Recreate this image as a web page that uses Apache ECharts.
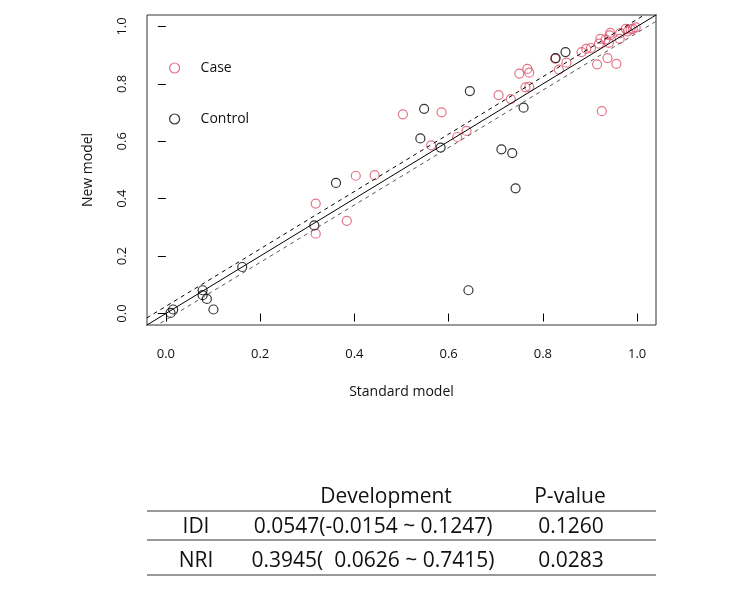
<!DOCTYPE html>
<html>
<head>
<meta charset="utf-8">
<script src="https://cdn.jsdelivr.net/npm/echarts@6/dist/echarts.min.js"></script>
<style>html,body{margin:0;padding:0;background:#fff}#c{width:744px;height:590px}</style>
</head>
<body>
<div id="c"></div>
<script>
// ---- data ----
const caseData = [
  [0.318,0.383],[0.318,0.278],[0.384,0.323],[0.403,0.480],[0.443,0.482],
  [0.503,0.694],[0.585,0.701],[0.563,0.586],[0.618,0.615],[0.638,0.636],
  [0.706,0.761],[0.732,0.747],[0.750,0.836],[0.767,0.852],[0.771,0.839],
  [0.763,0.788],[0.771,0.790],[0.834,0.850],[0.850,0.874],[0.882,0.911],
  [0.892,0.922],[0.902,0.925],[0.915,0.868],[0.925,0.705],[0.919,0.940],
  [0.922,0.957],[0.933,0.955],[0.937,0.890],[0.940,0.943],[0.942,0.969],
  [0.943,0.978],[0.956,0.870],[0.963,0.957],[0.964,0.977],[0.976,0.992],
  [0.980,0.983],[0.986,0.990],[0.991,0.992],[0.997,0.997],[0.826,0.888]
];
const controlData = [
  [0.010,0.002],[0.0155,0.014],[0.078,0.081],[0.078,0.064],[0.087,0.051],
  [0.101,0.014],[0.162,0.162],[0.315,0.307],[0.361,0.455],[0.540,0.610],
  [0.548,0.713],[0.583,0.578],[0.645,0.775],[0.642,0.081],[0.712,0.572],
  [0.735,0.559],[0.742,0.436],[0.759,0.717],[0.827,0.890],[0.848,0.911]
];
const tickValues = [0, 0.2, 0.4, 0.6, 0.8, 1.0];
const tickLabels = ['0.0', '0.2', '0.4', '0.6', '0.8', '1.0'];
const refLineX = [-0.2, 1.2];
const refOffsets = [0, 0.025, -0.022];
const tableHeader = ['', 'Development', 'P-value'];
const tableRows = [
  ['IDI', '0.0547(-0.0154 ~ 0.1247)', '0.1260'],
  ['NRI', '0.3945(  0.0626 ~ 0.7415)', '0.0283']
];

// ---- chart ----
const FONT = '"Open Sans", sans-serif';
const chart = echarts.init(document.getElementById('c'), null, {renderer: 'canvas'});
const RED = '#DF536B';
const fmt = v => { const i = tickValues.findIndex(t => Math.abs(t - v) < 1e-9); return i >= 0 ? tickLabels[i] : ''; };

const lineSeries = refOffsets.map((off, i) => ({
  type: 'line',
  data: refLineX.map(x => [x, x + off]),
  symbol: 'none',
  silent: true,
  clip: true,
  z: 5,
  lineStyle: {color: i === 2 ? '#555' : '#000', width: 1, type: i === 0 ? 'solid' : [4, 4]}
}));

const colX = [196, 373, 571];
const headX = [196, 386, 570];
const headY = 497, rowY = [527, 561];
const graphics = [];
tableHeader.forEach((t, j) => {
  if (t) graphics.push({type: 'text', style: {text: t, x: headX[j], y: headY, align: 'center', verticalAlign: 'middle', font: '21px ' + FONT, fill: '#111'}});
});
tableRows.forEach((row, i) => row.forEach((t, j) => {
  graphics.push({type: 'text', style: {text: t, x: colX[j], y: rowY[i], align: 'center', verticalAlign: 'middle', font: '21px ' + FONT, fill: '#111'}});
}));
[511, 540, 575].forEach(y => graphics.push({type: 'line', shape: {x1: 147, y1: y, x2: 656, y2: y}, style: {stroke: '#333', lineWidth: 1}}));

chart.setOption({
  animation: false,
  backgroundColor: '#fff',
  grid: {left: 147, right: 88, top: 15, bottom: 265, show: true, borderColor: '#333', borderWidth: 1, backgroundColor: 'transparent'},
  legend: {
    orient: 'vertical', left: 164, top: 56, itemGap: 37, itemWidth: 10, itemHeight: 10,
    textStyle: {fontFamily: FONT, fontSize: 14, color: '#111', padding: [0, 0, 0, 16]},
    data: [
      {name: 'Case', icon: 'circle', itemStyle: {color: 'transparent', borderColor: RED, borderWidth: 1.2}},
      {name: 'Control', icon: 'circle', itemStyle: {color: 'transparent', borderColor: '#000', borderWidth: 1.2}}
    ]
  },
  xAxis: {
    type: 'value', min: -0.04, max: 1.04,
    name: 'Standard model', nameLocation: 'middle', nameGap: 60,
    nameTextStyle: {fontFamily: FONT, fontSize: 14, color: '#111'},
    axisLine: {show: false}, splitLine: {show: false},
    axisTick: {show: true, customValues: tickValues, length: 8, inside: false, lineStyle: {color: '#000'}},
    axisLabel: {customValues: tickValues, formatter: fmt, margin: 23, fontFamily: FONT, fontSize: 13, color: '#111'}
  },
  yAxis: {
    type: 'value', min: -0.04, max: 1.04,
    name: 'New model', nameLocation: 'middle', nameGap: 52,
    nameTextStyle: {fontFamily: FONT, fontSize: 14, color: '#111'},
    axisLine: {show: false}, splitLine: {show: false},
    axisTick: {show: true, customValues: tickValues, length: 8, lineStyle: {color: '#000'}},
    axisLabel: {customValues: tickValues, formatter: fmt, margin: 18, rotate: 90, fontFamily: FONT, fontSize: 13, color: '#111'}
  },
  series: [
    {name: 'Case', type: 'scatter', data: caseData, symbol: 'circle', symbolSize: 9, z: 3,
     itemStyle: {color: 'transparent', borderColor: RED, borderWidth: 1.2}},
    {name: 'Control', type: 'scatter', data: controlData, symbol: 'circle', symbolSize: 9, z: 3,
     itemStyle: {color: 'transparent', borderColor: '#000', borderWidth: 1.2}},
    ...lineSeries
  ],
  graphic: graphics
});
</script>
</body>
</html>
